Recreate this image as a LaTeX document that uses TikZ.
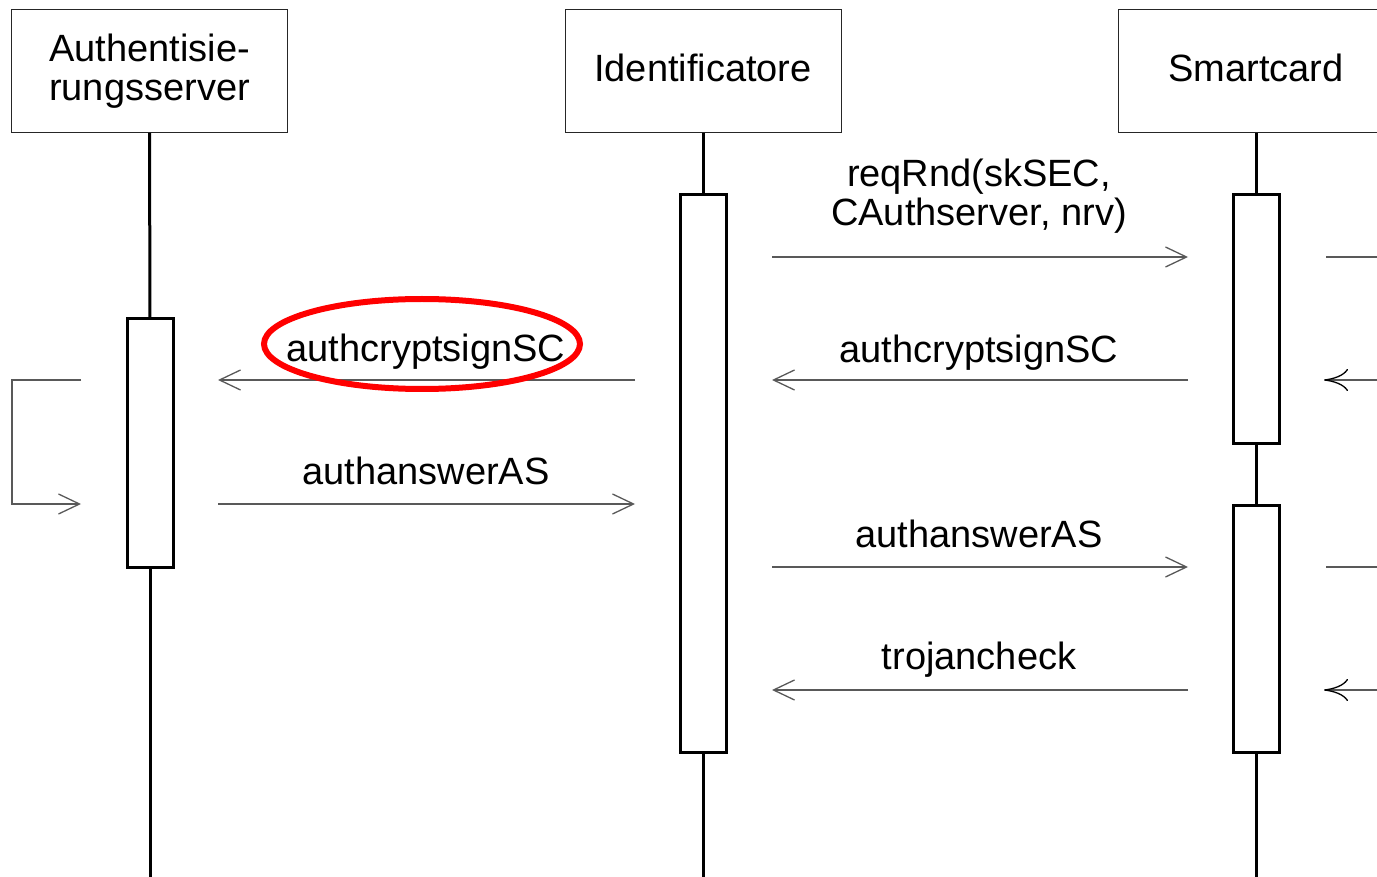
\documentclass[tikz,border=0pt]{standalone}
\usepackage{fontspec}
\setmainfont{Liberation Sans}
\usetikzlibrary{arrows.meta}
\begin{document}
\begin{tikzpicture}[x=1pt,y=-1pt,
  every node/.style={font=\fontsize{38}{39}\selectfont, inner sep=0pt, outer sep=0pt},
  header/.style={draw=black!85, line width=1pt, minimum width=276pt, minimum height=123pt, align=center},
  actbar/.style={draw=black, line width=3pt, fill=white, minimum width=46pt},
  lifeline/.style={draw=black, line width=3pt},
  msg/.style={draw=black!65, line width=1.3pt, -{Straight Barb[length=21pt,width=20pt,line width=1.3pt]}},
  stubin/.style={draw=black!65, line width=1.3pt, -{Computer Modern Rightarrow[length=24pt,width=22pt,line width=1.3pt,black]}},
  stub/.style={draw=black!65, line width=1.3pt},
  lbl/.style={anchor=base, align=center},
  redring/.style={draw=red, line width=6pt}
]
\useasboundingbox (0,0) rectangle (1377,877);
\clip (0,0) rectangle (1377,877);

% headers
\node[header] (hA) at (149.5,71.5) {};
\node[lbl] (hAt) at (149.5,101) {Authentisie-\\rungsserver};
\node[header] (hB) at (703,71.5) {};
\node[lbl] (hBt) at (703,82) {Identificatore};
\node[header] (hC) at (1256,71.5) {};
\node[lbl] (hCt) at (1256,82) {Smartcard};

% bottom ends
\coordinate (endA) at (150,877);
\coordinate (endB) at (703,877);
\coordinate (endC) at (1256,877);

% activation bars
\node[actbar, minimum height=248pt] (barA) at (150,443) {};
\node[actbar, minimum height=557pt] (barB) at (703,473.5) {};
\node[actbar, minimum height=248pt] (barC1) at (1256,319) {};
\node[actbar, minimum height=247pt] (barC2) at (1256,628.5) {};

% lifelines
\draw[lifeline] (hA.south) -- (barA.north);
\draw[lifeline] (barA.south) -- (endA);
\draw[lifeline] (hB.south) -- (barB.north);
\draw[lifeline] (barB.south) -- (endB);
\draw[lifeline] (hC.south) -- (barC1.north);
\draw[lifeline] (barC1.south) -- (barC2.north);
\draw[lifeline] (barC2.south) -- (endC);

% message endpoints
\coordinate (m1s) at (772,257);  \coordinate (m1e) at (1188,257);
\coordinate (m2s) at (1188,380); \coordinate (m2e) at (772,380);
\coordinate (m3s) at (635,380);  \coordinate (m3e) at (218,380);
\coordinate (m4s) at (218,504);  \coordinate (m4e) at (635,504);
\coordinate (m5s) at (772,567);  \coordinate (m5e) at (1188,567);
\coordinate (m6s) at (1188,690); \coordinate (m6e) at (772,690);
\coordinate (l1) at (81,380); \coordinate (l2) at (12,380);
\coordinate (l3) at (12,504); \coordinate (l4) at (81,504);
\coordinate (s1a) at (1326,257); \coordinate (s1b) at (1380,257);
\coordinate (s2a) at (1380,380); \coordinate (s2b) at (1324,380);
\coordinate (s3a) at (1326,567); \coordinate (s3b) at (1380,567);
\coordinate (s4a) at (1380,690); \coordinate (s4b) at (1324,690);

% messages
\draw[msg] (m1s) -- (m1e);
\draw[msg] (m2s) -- (m2e);
\draw[msg] (m3s) -- (m3e);
\draw[msg] (m4s) -- (m4e);
\draw[msg] (m5s) -- (m5e);
\draw[msg] (m6s) -- (m6e);
\draw[msg] (l1) -- (l2) -- (l3) -- (l4);
\draw[stub] (s1a) -- (s1b);
\draw[stubin] (s2a) -- (s2b);
\draw[stub] (s3a) -- (s3b);
\draw[stubin] (s4a) -- (s4b);

% labels
\node[lbl] (t1) at (979,226) {reqRnd(skSEC,\\CAuthserver, nrv)};
\node[lbl] (t2) at (979,363) {authcryptsignSC};
\node[lbl] (t3) at (426,362) {authcryptsignSC};
\node[lbl] (t4) at (426,484) {authanswerAS};
\node[lbl] (t5) at (979,547) {authanswerAS};
\node[lbl] (t6) at (979,669) {trojancheck};

% highlight
\draw[redring] (422,344) ellipse [x radius=158pt, y radius=45pt];
\end{tikzpicture}
\end{document}
